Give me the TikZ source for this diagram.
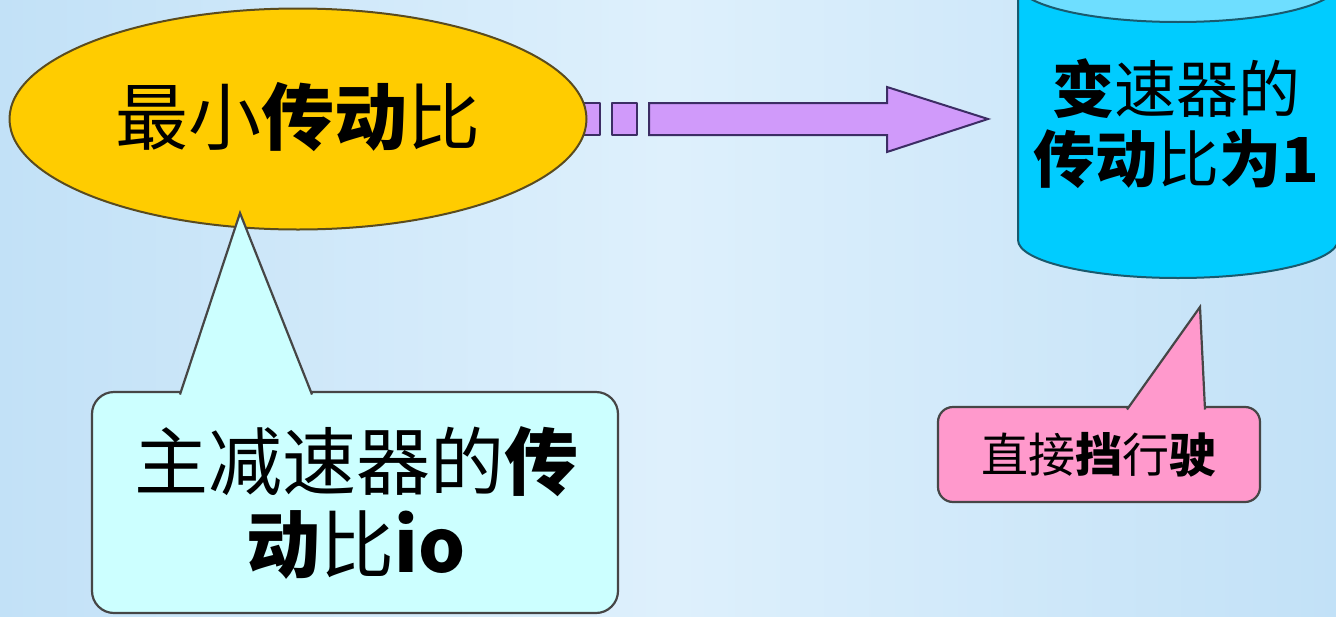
\documentclass[tikz,border=0pt]{standalone}
\usepackage{fontspec}
\setmainfont{Noto Sans CJK SC}
\usetikzlibrary{shapes.geometric}
\definecolor{bgside}{RGB}{194,225,247}
\definecolor{bgmid}{RGB}{222,240,252}
\definecolor{ellfill}{RGB}{255,204,0}
\definecolor{ellline}{RGB}{90,75,30}
\definecolor{arrfill}{RGB}{208,154,250}
\definecolor{arrline}{RGB}{60,45,100}
\definecolor{cylfill}{RGB}{0,204,255}
\definecolor{cyltop}{RGB}{110,222,255}
\definecolor{cylline}{RGB}{25,90,110}
\definecolor{lcyan}{RGB}{204,255,255}
\definecolor{pinkfill}{RGB}{255,153,204}
\definecolor{callline}{RGB}{70,70,70}
\tikzset{
  lbl/.style={text=black, align=center, inner sep=0pt},
  callbox/.style={draw=callline, line width=2.2pt, rounded corners=#1},
  tipline/.style={draw=callline, line width=2.2pt, line join=miter},
}
\begin{document}
\begin{tikzpicture}[x=1pt,y=-1pt,line join=round]
\useasboundingbox (0,0) rectangle (1336,616);
\shade[left color=bgside,right color=bgside,middle color=bgmid] (0,0) rectangle (1336,616);

% block arrow (dashed tail)
\draw[fill=arrfill,draw=arrline,line width=2pt] (572,103) rectangle (600,135);
\draw[fill=arrfill,draw=arrline,line width=2pt] (612,103) rectangle (637,135);
\draw[fill=arrfill,draw=arrline,line width=2pt,line join=miter]
  (649,103) -- (887,103) -- (887,87) -- (988,119) -- (887,152) -- (887,135) -- (649,135) -- cycle;

% ellipse
\node[ellipse, draw=ellline, line width=2pt, fill=ellfill, minimum width=577pt, minimum height=221pt, inner sep=0pt] (ell) at (298,119) {};
\node[lbl, font=\fontsize{73}{80}\selectfont] (elltxt) at (298,117) {最小{\bfseries 传动}比};

% cylinder
\draw[fill=cylfill, draw=cylline, line width=2pt]
  (1018,-16) -- (1018,240) arc[start angle=180, end angle=0, x radius=160, y radius=38] -- (1338,-16) -- cycle;
\draw[fill=cyltop, draw=cylline, line width=2pt] (1178,-16) ellipse[x radius=160, y radius=38];
\node[lbl, font=\fontsize{62}{70}\selectfont] (cyl) at (1176,124) {{\bfseries 变}速器的\\{\bfseries 传动}比{\bfseries 为1}};

% cyan callout
\draw[fill=lcyan, callbox=22pt] (92,392) rectangle (618,613);
\draw[fill=lcyan, tipline] (180,394.5) -- (240,213) -- (312,394.5);
\node[lbl, font=\fontsize{74}{83}\selectfont] (note1) at (356,503) {主减速器的{\bfseries 传}\\{\bfseries 动}比{\bfseries io}};

% pink callout
\draw[fill=pinkfill, callbox=15pt] (938,407) rectangle (1260,502);
\draw[fill=pinkfill, tipline] (1127,409.5) -- (1200,307) -- (1205,409.5);
\node[lbl, font=\fontsize{47}{52}\selectfont] (note2) at (1099,455) {直接{\bfseries 挡}行{\bfseries 驶}};
\end{tikzpicture}
\end{document}
